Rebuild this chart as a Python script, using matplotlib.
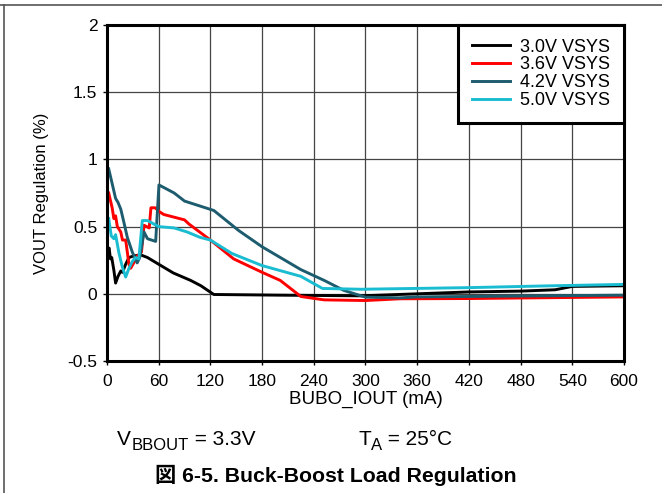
import matplotlib.pyplot as plt
from matplotlib.lines import Line2D

plt.rcParams['font.family'] = ['Liberation Sans', 'Noto Sans CJK JP', 'DejaVu Sans']

# data (BUBO_IOUT in mA, regulation in %)
x_30 = [1.5, 2.5, 4, 5.5, 8, 10, 12.8, 16, 18, 21.7, 25.5, 30, 39, 47, 60, 77, 97, 109, 124,
        200, 295, 360, 420, 480, 520, 540, 600]
y_30 = [0.33, 0.34, 0.26, 0.27, 0.175, 0.08, 0.13, 0.17, 0.16, 0.22, 0.27, 0.28, 0.29, 0.27,
        0.22, 0.155, 0.10, 0.06, -0.005, -0.01, -0.015, 0.0, 0.014, 0.02, 0.03, 0.055, 0.06]

x_36 = [2, 6, 8, 10, 12, 16, 18, 21.7, 25.5, 27.5, 31, 35, 40, 43, 49, 51, 56, 61, 66, 78,
        90, 95, 120, 147, 180, 201, 225, 252, 300, 340, 420, 600]
y_36 = [0.75, 0.64, 0.56, 0.58, 0.50, 0.46, 0.40, 0.40, 0.22, 0.19, 0.23, 0.28, 0.31, 0.51,
        0.49, 0.64, 0.64, 0.61, 0.59, 0.57, 0.55, 0.52, 0.40, 0.26, 0.16, 0.10, -0.02, -0.045,
        -0.05, -0.037, -0.035, -0.023]

x_42 = [2, 6, 10, 12.8, 16, 19.7, 23.6, 29.4, 35, 38, 43, 47, 56.5, 60.3, 78, 90, 124, 153,
        180, 225, 252, 275, 300, 340, 360, 600]
y_42 = [0.93, 0.82, 0.71, 0.68, 0.63, 0.53, 0.42, 0.31, 0.23, 0.27, 0.46, 0.41, 0.39, 0.81,
        0.75, 0.69, 0.62, 0.47, 0.35, 0.18, 0.10, 0.025, -0.025, -0.03, -0.023, -0.01]

x_50 = [2, 5, 8, 10, 12, 14, 17.8, 21.7, 25.5, 29.4, 33, 37, 41, 47, 60, 78, 93, 108, 120,
        145, 180, 225, 250, 295, 420, 510, 600]
y_50 = [0.56, 0.43, 0.41, 0.44, 0.37, 0.30, 0.20, 0.125, 0.19, 0.24, 0.27, 0.26, 0.545, 0.545,
        0.50, 0.49, 0.46, 0.42, 0.40, 0.30, 0.21, 0.13, 0.04, 0.034, 0.046, 0.059, 0.07]

series = [
    ("3.0V VSYS", x_30, y_30, "black"),
    ("3.6V VSYS", x_36, y_36, "#ff0000"),
    ("4.2V VSYS", x_42, y_42, "#1d5c6e"),
    ("5.0V VSYS", x_50, y_50, "#19bcd0"),
]

x_ticks = list(range(0, 601, 60))
y_ticks = [-0.5, 0, 0.5, 1, 1.5, 2]
y_tick_labels = ["-0.5", "0", "0.5", "1", "1.5", "2"]

fig = plt.figure(figsize=(6.62, 4.93), dpi=100)
ax = fig.add_axes([0.1616, 0.2677, 0.7810, 0.6816])

for name, xs, ys, col in series:
    ax.plot(xs, ys, color=col, lw=2.1, label=name)

ax.set_xlim(0, 600)
ax.set_ylim(-0.5, 2)
ax.set_xticks(x_ticks)
ax.set_yticks(y_ticks)
ax.set_yticklabels(y_tick_labels)
ax.tick_params(labelsize=12.5, length=3, width=1, direction='out')
ax.tick_params(axis='x', pad=6.5)
ax.tick_params(axis='y', pad=4)
ax.grid(True, color='#444444', lw=0.9)
for sp in ax.spines.values():
    sp.set_linewidth(2.2)

ax.set_xlabel("BUBO_IOUT (mA)", fontsize=13.5)
ax.xaxis.set_label_coords(0.5, -0.088)
ax.set_ylabel("VOUT Regulation (%)", fontsize=12)
ax.yaxis.set_label_coords(-0.113, 0.5)

leg = ax.legend(loc='upper right', bbox_to_anchor=(1, 1), borderaxespad=0, fontsize=13,
                fancybox=False, framealpha=1, edgecolor='black', handlelength=2.1,
                handletextpad=0.6, labelspacing=0.05, borderpad=0.75)
leg.get_frame().set_linewidth(2.2)

# condition notes under the chart, subscripts nearly full size as in the reference
base_y = 1 - 445 / 493
fs = 15
v1 = fig.text(117 / 662, base_y, "V", fontsize=fs, va='baseline')
v2 = ax.annotate("BBOUT", xy=(1, 0), xycoords=v1, xytext=(0.3, -3), textcoords='offset points',
                 fontsize=fs * 0.8, va='bottom')
ax.annotate(" = 3.3V", xy=(1, 0), xycoords=(v2, v1), va='bottom', fontsize=fs,
            annotation_clip=False)
t1 = fig.text(358 / 662, base_y, "T", fontsize=fs, va='baseline')
t2 = ax.annotate("A", xy=(1, 0), xycoords=t1, xytext=(0.3, -3), textcoords='offset points',
                 fontsize=fs * 0.8, va='bottom')
ax.annotate(" = 25°C", xy=(1, 0), xycoords=(t2, t1), va='bottom', fontsize=fs,
            annotation_clip=False)

fig.text(335.5 / 662, 1 - 475 / 493, "図 6-5. Buck-Boost Load Regulation", fontsize=15.3,
         fontweight='bold', ha='center', va='center')

# frame lines around the figure (top and left)
fig.add_artist(Line2D([0, 1], [0.989, 0.989], color='#555555', lw=1.2, transform=fig.transFigure))
fig.add_artist(Line2D([0.006, 0.006], [0, 0.989], color='#555555', lw=1.2, transform=fig.transFigure))

fig.savefig("out.png", dpi=100)
